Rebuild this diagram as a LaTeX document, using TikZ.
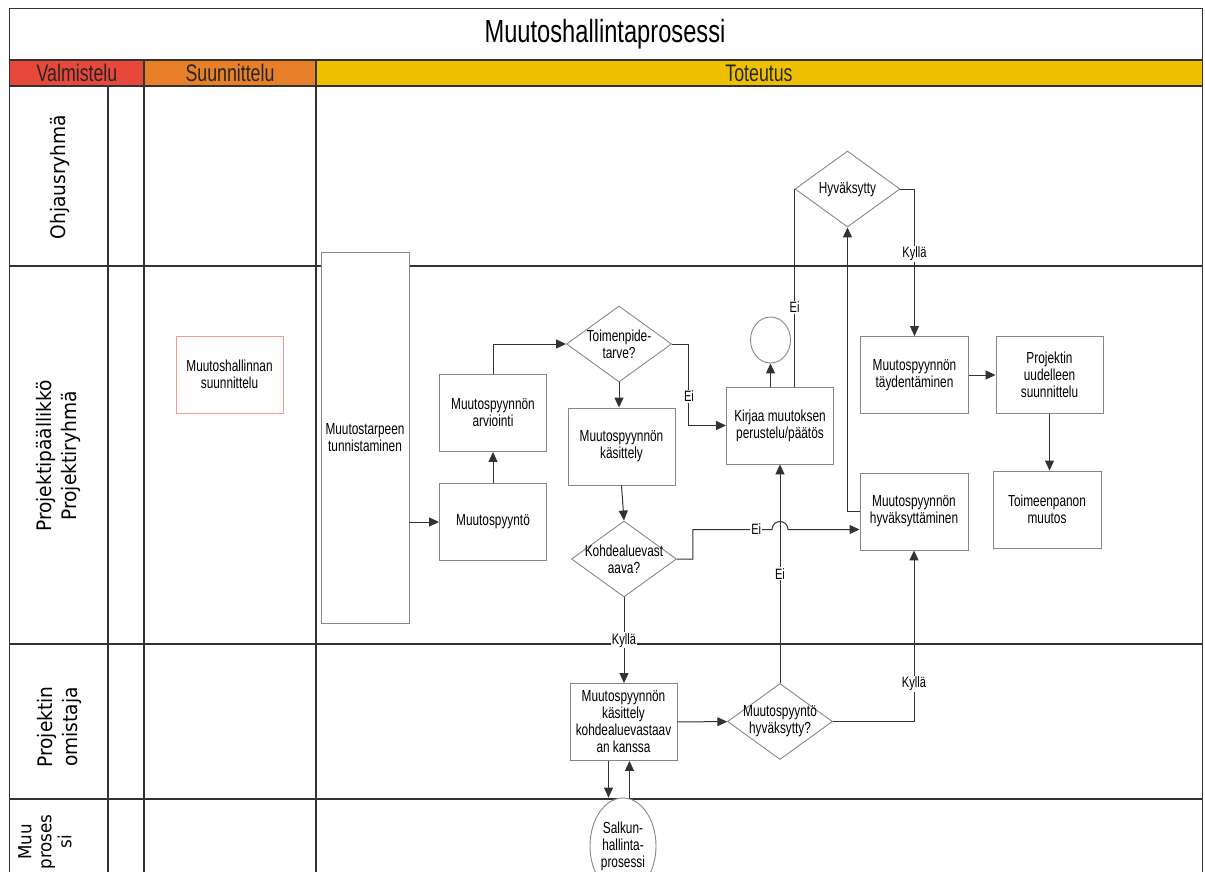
\documentclass[tikz,border=0pt]{standalone}
\usepackage{fontspec}
\setmainfont[FakeStretch=0.74]{Liberation Sans}
\newfontfamily\kaistafont[FakeStretch=0.93]{DejaVu Sans}
\usetikzlibrary{arrows.meta, shapes.geometric}

\definecolor{punainen}{RGB}{232,72,58}
\definecolor{oranssi}{RGB}{232,128,42}
\definecolor{keltainen}{RGB}{238,192,0}
\definecolor{viiva}{RGB}{50,50,50}
\definecolor{reuna}{RGB}{135,135,135}

\begin{document}
\begin{tikzpicture}[x=1pt, y=-1pt, >={Triangle[length=10pt, width=9pt]},
    box/.style={draw=reuna, fill=white, line width=0.9pt, align=center,
        minimum width=107pt, minimum height=77pt, inner sep=2pt,
        font=\fontsize{16}{17}\selectfont},
    kysymys/.style={diamond, draw=reuna, fill=white, line width=0.9pt,
        minimum width=105pt, minimum height=76pt, inner sep=0pt},
    kteksti/.style={align=center, font=\fontsize{16}{17}\selectfont},
    kaista/.style={rotate=90, align=center,
        font=\kaistafont\fontsize{20}{25}\selectfont},
    otsake/.style={font=\fontsize{24}{26}\selectfont, text=black!85},
    lbl/.style={fill=white, inner sep=1pt, font=\fontsize{15}{16}\selectfont},
    yhteys/.style={draw=viiva, line width=1pt},
    kehys/.style={draw=viiva, line width=1.3pt}]

    \useasboundingbox (0,0) rectangle (1205,872);

    % Kehys
    \fill[punainen] (9.5,60) rectangle (144,86);
    \fill[oranssi] (144,60) rectangle (316,86);
    \fill[keltainen] (316,60) rectangle (1202.5,86);
    \draw[kehys] (9.5,880) -- (9.5,8.5) -- (1202.5,8.5) -- (1202.5,880);
    \draw[kehys] (9.5,60) -- (1202.5,60);
    \draw[kehys] (9.5,86) -- (1202.5,86);
    \draw[kehys] (9.5,266) -- (1202.5,266);
    \draw[kehys] (9.5,644) -- (1202.5,644);
    \draw[kehys] (9.5,799) -- (1202.5,799);
    \draw[kehys] (108,86) -- (108,880);
    \draw[kehys] (144,60) -- (144,880);
    \draw[kehys] (316,60) -- (316,880);

    % Otsikot
    \node (otsikko) [font=\fontsize{32}{34}\selectfont] at (605,34) {Muutoshallintaprosessi};
    \node (valm) [otsake] at (77,73) {Valmistelu};
    \node (suun) [otsake] at (230,73) {Suunnittelu};
    \node (tot) [otsake] at (759,73) {Toteutus};

    % Kaistat
    \node (ohj) [kaista] at (60,177) {Ohjausryhmä};
    \node (ppl) [kaista] at (58,456) {Projektipäällikkö\\Projektiryhmä};
    \node (omist) [kaista] at (59,727) {Projektin\\omistaja};
    \node (muu) [kaista, font=\kaistafont\fontsize{18}{20}\selectfont] at (45,842) {Muu\\proses\\si};

    % Solmut
    \node (suunn) [box, draw=punainen!55] at (229.5,374.5) {Muutoshallinnan\\suunnittelu};
    \node (tarve) [box, minimum width=88pt, minimum height=371pt] at (365,437.5) {Muutostarpeen\\tunnistaminen};
    \node (arvio) [box] at (493,413) {Muutospyynnön\\arviointi};
    \node (pyynto) [box] at (493,522) {Muutospyyntö};
    \node (toimenp) [kysymys, label={[kteksti]center:{Toimenpide-\\tarve?}}] at (619,344) {};
    \node (kasittely) [box] at (621.5,446.5) {Muutospyynnön\\käsittely};
    \node (kohde) [kysymys, label={[kteksti]center:{Kohdealuevast\\aava?}}] at (624,559) {};
    \node (kirjaa) [box] at (780,425.5) {Kirjaa muutoksen\\perustelu/päätös};
    \node (ympyra) [ellipse, draw=reuna, line width=0.9pt, minimum width=40pt, minimum height=46pt, inner sep=0pt] at (770.5,340) {};
    \node (hyvaks) [kysymys, label={[kteksti]center:Hyväksytty}] at (847.5,189) {};
    \node (taydent) [box, minimum width=108pt] at (914.5,375) {Muutospyynnön\\täydentäminen};
    \node (uudell) [box] at (1049.5,375) {Projektin\\uudelleen\\suunnittelu};
    \node (toimeen) [box, minimum width=108pt] at (1047,509.5) {Toimeenpanon\\muutos};
    \node (hyvaksyt) [box, minimum width=108pt] at (914,511.5) {Muutospyynnön\\hyväksyttäminen};
    \node (kaskohde) [box] at (623.5,722) {Muutospyynnön\\käsittely\\kohdealuevastaav\\an kanssa};
    \node (pyyntohyv) [kysymys, label={[kteksti]center:{Muutospyyntö\\hyväksytty?}}] at (780,721.5) {};
    \node (salkku) [ellipse, draw=reuna, fill=white, line width=0.9pt, minimum width=66pt, minimum height=96pt, inner sep=0pt, kteksti] at (623,846) {Salkun-\\hallinta-\\prosessi};

    % Apupisteet
    \coordinate (eiin) at ([yshift=-18pt]hyvaksyt.west);
    \coordinate (hyppy) at (pyyntohyv.north |- eiin);
    \coordinate (alas) at ([xshift=-15pt]kaskohde.south);
    \coordinate (ylos) at ([xshift=6pt]kaskohde.south);

    % Yhteydet
    \draw[yhteys, ->] (tarve.east |- pyynto.west) -- (pyynto.west);
    \draw[yhteys, ->] (pyynto) -- (arvio);
    \draw[yhteys, ->] (arvio.north) |- (toimenp.west);
    \draw[yhteys, ->] (toimenp.south) -- (toimenp.south |- kasittely.north);
    \draw[yhteys, ->] (toimenp.east) -- ++(17,0) |- node[lbl, pos=0.32] {Ei} (kirjaa.west);
    \draw[yhteys, ->] (kasittely.south) -- (kohde.north);
    \draw[yhteys, ->] (kohde.south) -- node[lbl] {Kyllä} (kohde.south |- kaskohde.north);
    \draw[yhteys, ->] (pyyntohyv.north) -- node[lbl] {Ei} (pyyntohyv.north |- kirjaa.south);
    \draw[yhteys, ->] (kohde.east) -- ++(16,0) |- node[lbl, pos=0.9] {Ei} ([xshift=-8pt]hyppy)
        arc[start angle=180, end angle=0, radius=8pt] -- (eiin);
    \draw[yhteys, ->] (pyyntohyv.east) -| node[lbl, pos=0.61] {Kyllä} (hyvaksyt.south);
    \draw[yhteys, ->] (kaskohde) -- (pyyntohyv);
    \draw[yhteys, ->] (alas) -- (alas |- salkku.north);
    \draw[yhteys, ->] (ylos |- salkku.north) -- (ylos);
    \draw[yhteys, ->] (kirjaa.north -| ympyra.south) -- (ympyra.south);
    \draw[yhteys] (kirjaa.north -| hyvaks.west) -- node[lbl, pos=0.4] {Ei} (hyvaks.west);
    \draw[yhteys, ->] (hyvaks.east) -| node[lbl, pos=0.72] {Kyllä} (taydent.north);
    \draw[yhteys, ->] (taydent) -- (uudell);
    \draw[yhteys, ->] (uudell.south) -- (uudell.south |- toimeen.north);
    \draw[yhteys, ->] (hyvaksyt.west) -| (hyvaks.south);
\end{tikzpicture}
\end{document}
